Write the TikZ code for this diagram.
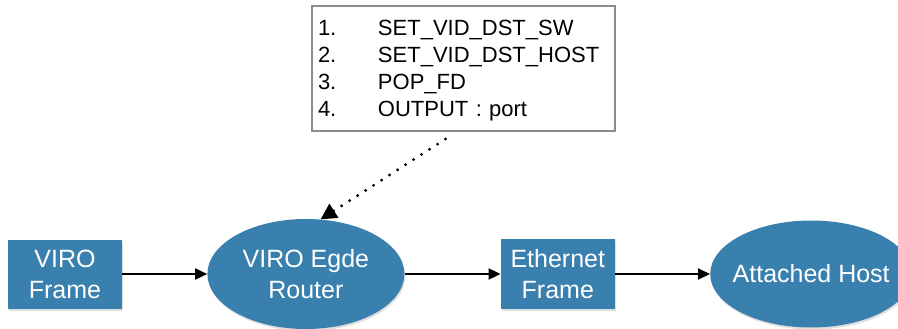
\documentclass[tikz,border=0pt]{standalone}
\usepackage{fontspec}
\setmainfont{Liberation Sans}
\usepackage{tikz}
\usetikzlibrary{shapes,arrows.meta,positioning,calc,shadows}
\usepackage{xcolor}
\definecolor{viroblue}{RGB}{58,128,174}
\definecolor{listgray}{RGB}{140,140,140}

\begin{document}
\begin{tikzpicture}[
    x=1pt, y=-1pt,
    frame/.style={rectangle, minimum width=114pt, minimum height=69pt, inner sep=0pt, align=center, text=white, fill=viroblue, font=\fontsize{25}{31}\selectfont, drop shadow={shadow xshift=1pt, shadow yshift=-2pt, opacity=0.25}},
    hop/.style={ellipse, minimum width=197pt, minimum height=110pt, inner sep=0pt, align=center, text=white, fill=viroblue, font=\fontsize{25}{31}\selectfont, drop shadow={shadow xshift=1pt, shadow yshift=-2pt, opacity=0.25}},
    actions/.style={rectangle, draw=listgray, line width=2pt, text width=291pt, inner xsep=6pt, inner ysep=0pt, text height=30pt, text depth=95pt, align=left, font=\fontsize{22}{26.7}\selectfont},
    arrow/.style={line width=1.8pt, -{Triangle[length=12pt, width=11pt]}},
    dotarrow/.style={line width=3.2pt, line cap=round, dash pattern=on 0pt off 9.5pt, -{Triangle[length=16pt, width=16pt, line cap=butt]}}
]
\useasboundingbox (0,0) rectangle (898,329);

\node (viro) [frame] at (65,274) {VIRO\\Frame};
\node (router) [hop, right=85pt of viro] {VIRO Egde\\Router};
\node (eth) [frame, right=96pt of router, minimum height=70pt] {Ethernet\\Frame};
\node (host) [hop, right=95pt of eth, minimum width=202pt, minimum height=107pt] {\makebox[0pt]{Attached Host}};

\node (list) [actions, anchor=north] at (463.5,5) {%
  \makebox[60pt][l]{1.}SET\_VID\_DST\_SW\\
  \makebox[60pt][l]{2.}SET\_VID\_DST\_HOST\\
  \makebox[60pt][l]{3.}POP\_FD\\
  \makebox[60pt][l]{4.}OUTPUT : port};

% Arrows
\draw[arrow] (viro) -- (router);
\draw[arrow] (router) -- (eth);
\draw[arrow] (eth) -- (host);
\draw[dotarrow] ($(list.south)+(-18,7)$) -- (router.75);

\end{tikzpicture}
\end{document}
